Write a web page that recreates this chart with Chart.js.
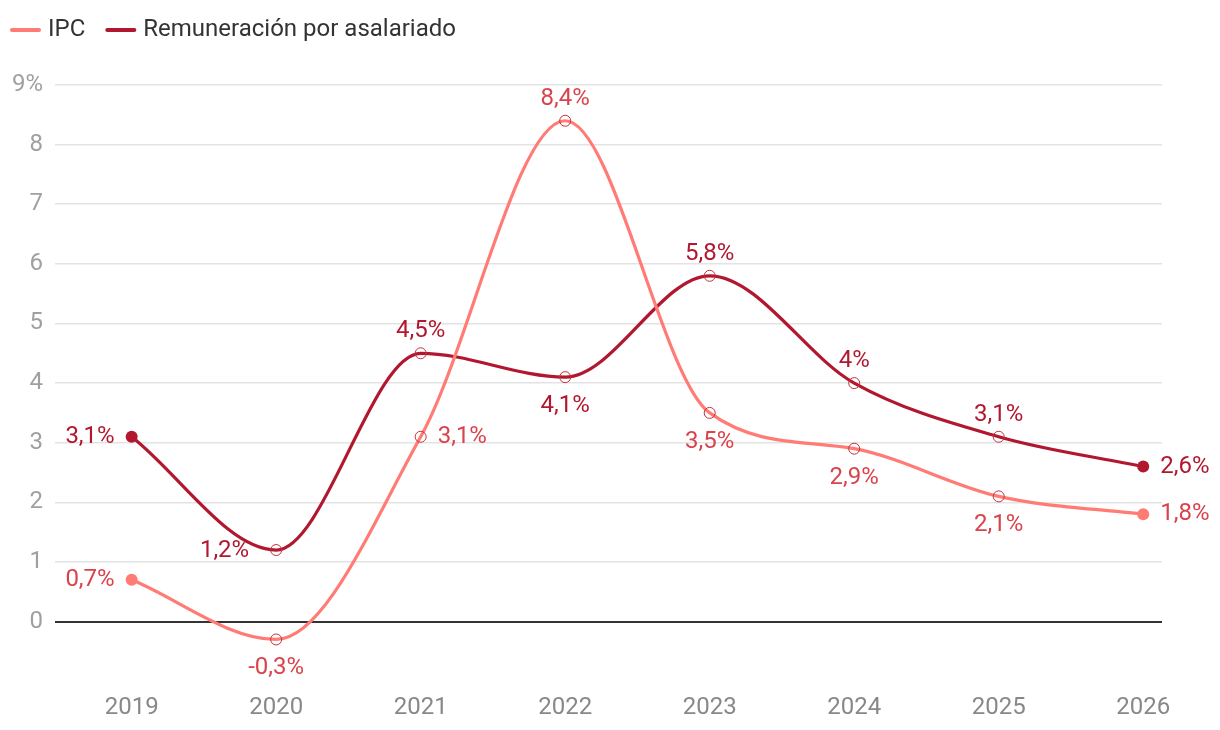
<!DOCTYPE html>
<html>
<head>
<meta charset="utf-8">
<script src="https://cdn.jsdelivr.net/npm/chart.js@4"></script>
<style>
  html, body { margin: 0; padding: 0; background: #fff; }
  #wrap { width: 1220px; height: 730px; }
</style>
</head>
<body>
<div id="wrap"><canvas id="chart" width="1220" height="730"></canvas></div>
<script>
const years = [2019, 2020, 2021, 2022, 2023, 2024, 2025, 2026];
const ipc = [0.7, -0.3, 3.1, 8.4, 3.5, 2.9, 2.1, 1.8];
const remuneracion = [3.1, 1.2, 4.5, 4.1, 5.8, 4, 3.1, 2.6];
const yTicks = [0, 1, 2, 3, 4, 5, 6, 7, 8, 9];

// where each value label goes
const ipcPos = ['left', 'below', 'right', 'above', 'below', 'below', 'below', 'right'];
const remPos = ['left', 'farleft', 'above', 'below', 'above', 'above', 'above', 'right'];

const ipcColor = '#ff7b74';
const remColor = '#b1182f';
const ipcText = '#d9434b';
const remText = '#b1182f';
const fontSize = 24;

function fmt(v) {
  return String(v).replace('.', ',') + '%';
}

function pointStyle(color, n) {
  const last = n - 1;
  return {
    pointRadius: years.map((y, i) => (i === 0 || i === last) ? 6 : 5.5),
    pointBackgroundColor: years.map((y, i) => (i === 0 || i === last) ? color : 'rgba(255,255,255,0)'),
    pointBorderColor: years.map((y, i) => (i === 0 || i === last) ? color : '#c4303a'),
    pointBorderWidth: years.map((y, i) => (i === 0 || i === last) ? 0 : 1)
  };
}

const valueLabels = {
  id: 'valueLabels',
  afterDatasetsDraw(chart) {
    const c = chart.ctx;
    c.save();
    c.font = fontSize + 'px Roboto';
    chart.data.datasets.forEach((ds, di) => {
      const meta = chart.getDatasetMeta(di);
      meta.data.forEach((pt, i) => {
        const pos = ds.labelPos[i];
        let x = pt.x, y = pt.y;
        c.fillStyle = ds.labelColor;
        c.textBaseline = 'middle';
        c.textAlign = 'center';
        if (pos === 'above') y -= 22;
        else if (pos === 'below') y += 29;
        else if (pos === 'left') { x -= 17; c.textAlign = 'right'; }
        else if (pos === 'farleft') { x -= 27; y += 1; c.textAlign = 'right'; }
        else if (pos === 'right') { x += 17; c.textAlign = 'left'; }
        c.fillText(fmt(ds.data[i].y), x, y);
      });
    });
    c.restore();
  }
};

// simple legend drawn at the top left
const topLegend = {
  id: 'topLegend',
  afterDraw(chart) {
    const c = chart.ctx;
    c.save();
    c.font = fontSize + 'px Roboto';
    c.textBaseline = 'middle';
    c.textAlign = 'left';
    let x = 10;
    const y = 30;
    chart.data.datasets.forEach(ds => {
      c.strokeStyle = ds.borderColor;
      c.lineWidth = 4;
      c.lineCap = 'round';
      c.beginPath();
      c.moveTo(x + 2, y);
      c.lineTo(x + 29, y);
      c.stroke();
      c.fillStyle = '#333';
      c.fillText(ds.label, x + 38, y);
      x += 38 + c.measureText(ds.label).width + 20;
    });
    c.restore();
  }
};

new Chart(document.getElementById('chart'), {
  type: 'line',
  data: {
    datasets: [
      Object.assign({
        label: 'IPC',
        data: years.map((y, i) => ({ x: y, y: ipc[i] })),
        borderColor: ipcColor,
        backgroundColor: ipcColor,
        borderWidth: 3.2,
        cubicInterpolationMode: 'monotone',
        labelPos: ipcPos,
        labelColor: ipcText
      }, pointStyle(ipcColor, years.length)),
      Object.assign({
        label: 'Remuneración por asalariado',
        data: years.map((y, i) => ({ x: y, y: remuneracion[i] })),
        borderColor: remColor,
        backgroundColor: remColor,
        borderWidth: 3.2,
        cubicInterpolationMode: 'monotone',
        labelPos: remPos,
        labelColor: remText
      }, pointStyle(remColor, years.length))
    ]
  },
  options: {
    responsive: false,
    animation: false,
    layout: { padding: { left: 0, right: 58, top: 85, bottom: 4 } },
    plugins: {
      legend: { display: false },
      tooltip: { enabled: false }
    },
    scales: {
      x: {
        type: 'linear',
        min: 2018.47,
        max: 2026.13,
        afterBuildTicks(scale) { scale.ticks = years.map(v => ({ value: v })); },
        grid: { display: false },
        border: { display: false },
        ticks: {
          color: '#888',
          padding: 4,
          font: { family: 'Roboto', size: fontSize },
          callback: v => String(v)
        }
      },
      y: {
        min: -1,
        max: 9,
        afterBuildTicks(scale) { scale.ticks = yTicks.map(v => ({ value: v })); },
        border: { display: false },
        grid: {
          drawTicks: false,
          color: ctx => ctx.tick && ctx.tick.value === 0 ? '#333' : '#e3e3e3',
          lineWidth: ctx => ctx.tick && ctx.tick.value === 0 ? 2 : 1.5
        },
        ticks: {
          color: '#a0a0a0',
          padding: 12,
          font: { family: 'Roboto', size: fontSize },
          callback: v => v === 9 ? '9%' : String(v)
        }
      }
    }
  },
  plugins: [valueLabels, topLegend]
});
</script>
</body>
</html>
